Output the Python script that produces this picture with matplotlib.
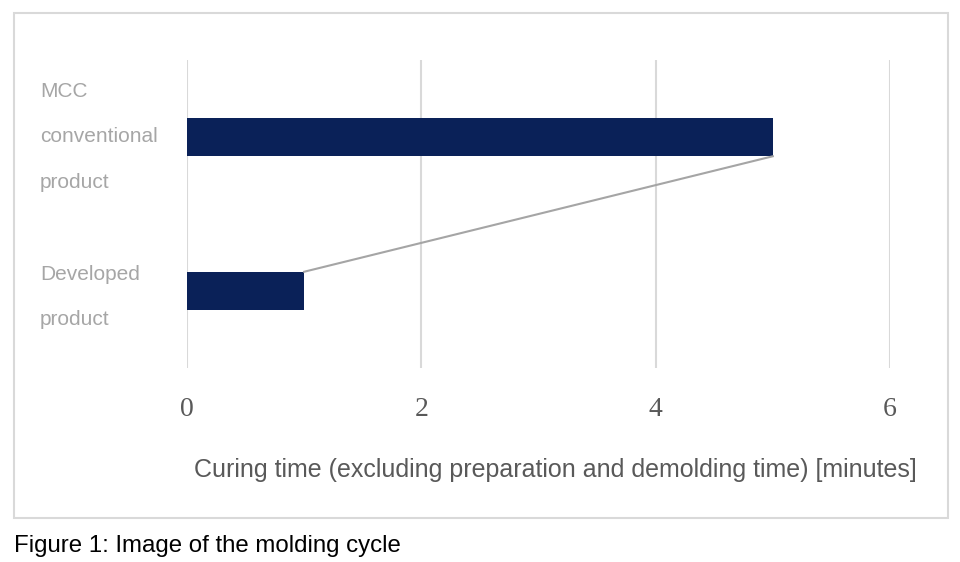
import numpy as np
import matplotlib.pyplot as plt
from matplotlib.patches import Rectangle
from matplotlib.transforms import blended_transform_factory

categories = ['Developed\nproduct', 'MCC\nconventional\nproduct']
curing_minutes = [1, 5]
x_ticks = [0, 2, 4, 6]

bar_color = '#0a2158'
grid_color = '#d9d9d9'

fig = plt.figure(figsize=(9.6, 5.62), dpi=100)
ax = fig.add_axes([187 / 960, 1 - 368 / 562, (890 - 187) / 960, 308 / 562])

y_pos = np.arange(len(categories))
bar_h = 0.25
ax.barh(y_pos, curing_minutes, height=bar_h, color=bar_color, zorder=3)

# series line joining the bar ends (Excel style)
ax.plot([curing_minutes[1], curing_minutes[0]],
        [y_pos[1] - bar_h / 2, y_pos[0] + bar_h / 2],
        color='#a5a5a5', linewidth=1.5, zorder=4)

ax.set_xlim(0, 6)
ax.set_ylim(-0.5, 1.5)
ax.set_xticks(x_ticks)
ax.set_xticklabels([str(t) for t in x_ticks], family='Liberation Serif',
                   fontsize=20, color='#595959')
ax.tick_params(axis='x', length=0, pad=21)
ax.set_yticks([])
ax.grid(axis='x', color=grid_color, linewidth=1.5, zorder=0)
for s in ax.spines.values():
    s.set_visible(False)

# category labels, left aligned
trans = blended_transform_factory(fig.transFigure, ax.transData)
label_shift = [-0.04, 0.0]
for y, lab, dy in zip(y_pos, categories, label_shift):
    ax.text(40 / 960, y + dy, lab, transform=trans,
            ha='left', va='center', fontsize=15, color='#a6a6a6',
            family='Liberation Sans', linespacing=2.75)

fig.text(555 / 960, 1 - 470 / 562,
         'Curing time (excluding preparation and demolding time) [minutes]',
         ha='center', va='center', fontsize=18, color='#595959',
         family='Liberation Sans')

fig.patches.append(Rectangle((14 / 960, 1 - 518 / 562), 934 / 960, 505 / 562,
                             transform=fig.transFigure, fill=False,
                             edgecolor=grid_color, linewidth=1.5))

fig.text(14 / 960, 1 - 546 / 562, 'Figure 1: Image of the molding cycle',
         ha='left', va='center', fontsize=17.3, color='black',
         family='Liberation Sans')

fig.savefig('out.png', dpi=100)
